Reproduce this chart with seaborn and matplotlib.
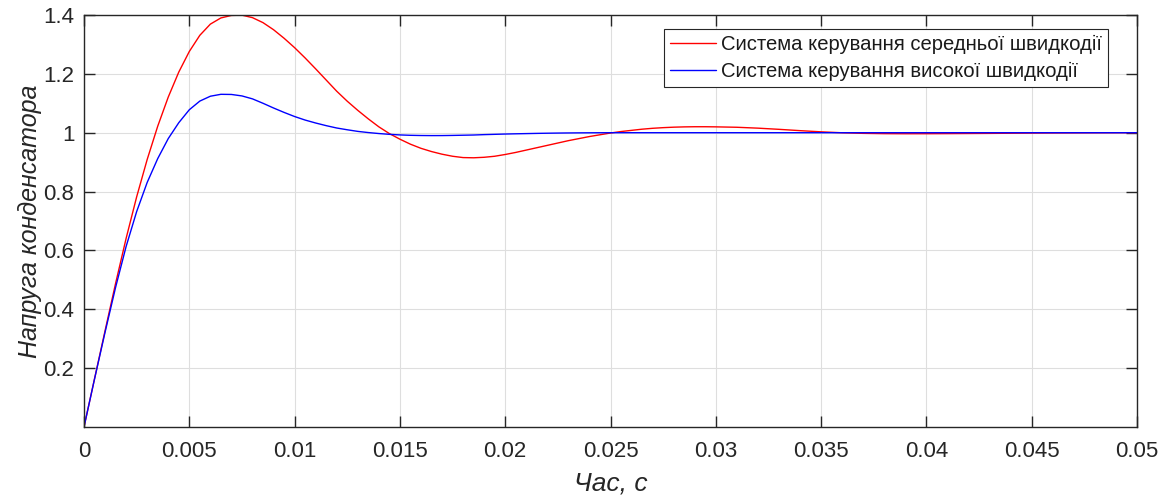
import matplotlib
matplotlib.use("Agg")
import matplotlib.pyplot as plt
import seaborn as sns
import pandas as pd
from matplotlib.ticker import FixedLocator, FixedFormatter

# ---- data (time in s, voltage in p.u.) ----
t = [0.0, 0.0005, 0.001, 0.0015, 0.002, 0.0025, 0.003, 0.0035, 0.004, 0.0045,
     0.005, 0.0055, 0.006, 0.0065, 0.007, 0.0075, 0.008, 0.0085, 0.009, 0.0095,
     0.01, 0.0105, 0.011, 0.0115, 0.012, 0.0125, 0.013, 0.0135, 0.014, 0.0145,
     0.015, 0.0155, 0.016, 0.0165, 0.017, 0.0175, 0.018, 0.0185, 0.019, 0.0195,
     0.02, 0.0205, 0.021, 0.0215, 0.022, 0.0225, 0.023, 0.0235, 0.024, 0.0245,
     0.025, 0.0255, 0.026, 0.0265, 0.027, 0.0275, 0.028, 0.0285, 0.029, 0.0295,
     0.03, 0.031, 0.032, 0.033, 0.034, 0.035, 0.036, 0.037, 0.038, 0.039,
     0.04, 0.041, 0.042, 0.043, 0.044, 0.045, 0.046, 0.047, 0.048, 0.049, 0.05]

medium_speed = [0.0, 0.164, 0.327, 0.488, 0.641, 0.782, 0.909, 1.022, 1.121, 1.206,
                1.276, 1.331, 1.369, 1.390, 1.3985, 1.3995, 1.391, 1.374, 1.350, 1.321,
                1.289, 1.254, 1.217, 1.179, 1.141, 1.107, 1.076, 1.047, 1.020, 0.997,
                0.978, 0.961, 0.947, 0.936, 0.927, 0.920, 0.9155, 0.9148, 0.9165, 0.920,
                0.926, 0.933, 0.941, 0.949, 0.957, 0.965, 0.973, 0.980, 0.987, 0.993,
                0.999, 1.004, 1.008, 1.012, 1.015, 1.0172, 1.0188, 1.0198, 1.0203, 1.0203,
                1.0199, 1.0185, 1.0155, 1.0115, 1.007, 1.003, 0.9998, 0.9978, 0.9968, 0.9965,
                0.9966, 0.9969, 0.9973, 0.9977, 0.9982, 0.9987, 0.9991, 0.9994, 0.9997, 0.9999, 1.0]

high_speed = [0.0, 0.163, 0.322, 0.4745, 0.6135, 0.732, 0.831, 0.912, 0.980, 1.034,
              1.078, 1.1075, 1.124, 1.1305, 1.130, 1.125, 1.115, 1.100, 1.084, 1.069,
              1.055, 1.043, 1.033, 1.024, 1.016, 1.010, 1.0045, 1.0005, 0.9972, 0.9945,
              0.9925, 0.9912, 0.9905, 0.9902, 0.9903, 0.9908, 0.9915, 0.9922, 0.9935, 0.9945,
              0.9955, 0.9963, 0.997, 0.9977, 0.9983, 0.9988, 0.9992, 0.9995, 0.9997, 0.9999,
              1.0, 1.0, 1.0, 1.0, 1.0, 1.0, 1.0, 1.0, 1.0, 1.0,
              1.0, 1.0, 1.0, 1.0, 1.0, 1.0, 1.0, 1.0, 1.0, 1.0,
              1.0, 1.0, 1.0, 1.0, 1.0, 1.0, 1.0, 1.0, 1.0, 1.0, 1.0]

label_medium = "Система керування середньої швидкодії"
label_high = "Система керування високої швидкодії"

x_ticks = [0, 0.005, 0.01, 0.015, 0.02, 0.025, 0.03, 0.035, 0.04, 0.045, 0.05]
x_tick_labels = ["0", "0.005", "0.01", "0.015", "0.02", "0.025", "0.03", "0.035", "0.04", "0.045", "0.05"]
y_ticks = [0.2, 0.4, 0.6, 0.8, 1.0, 1.2, 1.4]
y_tick_labels = ["0.2", "0.4", "0.6", "0.8", "1", "1.2", "1.4"]

x_label = "Час, с"
y_label = "Напруга конденсатора"

# ---- plotting ----
sns.set_style("white")
plt.rcParams["font.family"] = ["Liberation Sans", "DejaVu Sans"]

fig = plt.figure(figsize=(11.69, 4.99), dpi=100)
ax = fig.add_axes([84 / 1169, 72 / 499, 1053 / 1169, 412 / 499])

df = pd.DataFrame({"t": t, "medium": medium_speed, "high": high_speed})
sns.lineplot(data=df, x="t", y="medium", ax=ax, color=(1, 0, 0), lw=1.0,
             label=label_medium, sort=False)
sns.lineplot(data=df, x="t", y="high", ax=ax, color=(0, 0, 1), lw=1.0,
             label=label_high, sort=False)

ax.set_xlim(0, 0.05)
ax.set_ylim(0, 1.4)
ax.xaxis.set_major_locator(FixedLocator(x_ticks))
ax.xaxis.set_major_formatter(FixedFormatter(x_tick_labels))
ax.yaxis.set_major_locator(FixedLocator(y_ticks))
ax.yaxis.set_major_formatter(FixedFormatter(y_tick_labels))

ax.grid(True, color="#dedede", lw=0.8)
ax.set_axisbelow(True)
for s in ax.spines.values():
    s.set_color("#262626")
    s.set_linewidth(1.0)
ax.tick_params(axis="both", which="major", direction="in", length=8, width=1.0,
               color="#262626", labelsize=16, labelcolor="#262626",
               top=True, right=True, bottom=True, left=True)
ax.tick_params(axis="x", pad=10)
ax.tick_params(axis="y", pad=7)

ax.set_xlabel(x_label, fontsize=19, style="italic", color="#262626", labelpad=7)
ax.set_ylabel(y_label, fontsize=18, style="italic", color="#262626", labelpad=1)

leg = ax.legend(loc="upper right", bbox_to_anchor=(0.9725, 0.966), borderaxespad=0,
                fontsize=14.6, frameon=True, fancybox=False, framealpha=1,
                edgecolor="#262626", handlelength=2.3, handletextpad=0.25,
                labelspacing=0.4, borderpad=0.28)
leg.get_frame().set_linewidth(0.8)
for txt in leg.get_texts():
    txt.set_color("#1a1a1a")

fig.savefig("out.png", dpi=100)
